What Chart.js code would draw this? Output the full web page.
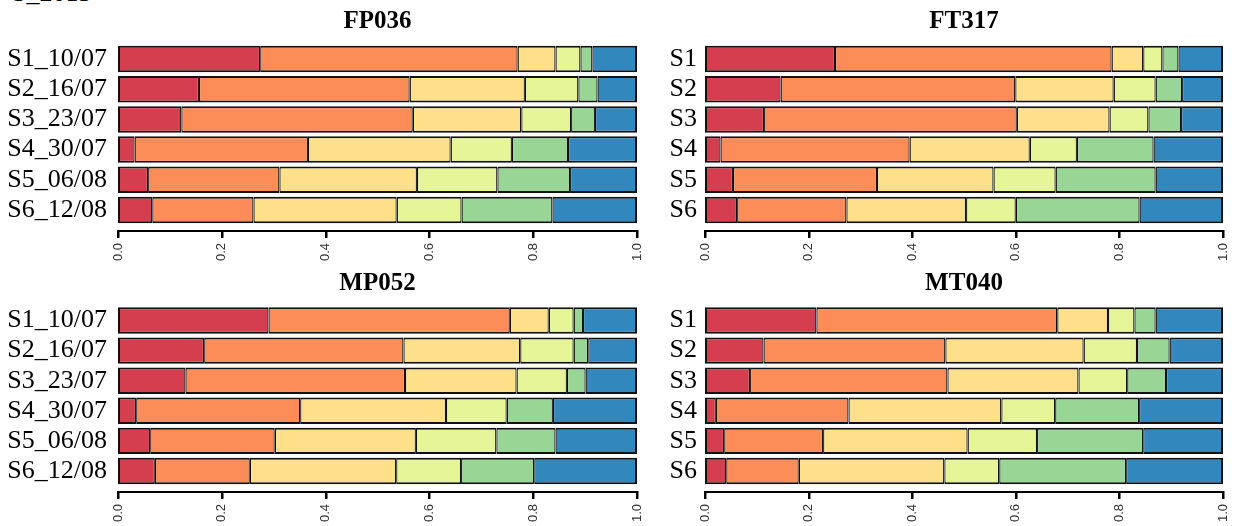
<!DOCTYPE html>
<html>
<head>
<meta charset="utf-8">
<script src="https://cdn.jsdelivr.net/npm/chart.js@4.4.1/dist/chart.umd.min.js"></script>
<style>
  html, body { margin: 0; padding: 0; background: #fff; overflow: hidden; }
  body { width: 1234px; height: 526px; position: relative; }
  canvas { position: absolute; }
  .cut { position: absolute; left: 12px; top: -20px; font: 26px/26px 'Liberation Serif', serif; color: #000; }
</style>
</head>
<body>
<div class="cut">S_2013</div>
<canvas id="c1" width="650" height="265" style="left:0;top:0"></canvas>
<canvas id="c2" width="584" height="265" style="left:650px;top:0"></canvas>
<canvas id="c3" width="650" height="264" style="left:0;top:262px"></canvas>
<canvas id="c4" width="584" height="264" style="left:650px;top:262px"></canvas>
<script>
// ---- data (proportions per sample, 6 groups each) ----
const longLabels = ['S1_10/07', 'S2_16/07', 'S3_23/07', 'S4_30/07', 'S5_06/08', 'S6_12/08'];
const shortLabels = ['S1', 'S2', 'S3', 'S4', 'S5', 'S6'];
const xTicks = [0, 0.2, 0.4, 0.6, 0.8, 1.0];
const groupColors = ['#d53e4f', '#fc8d59', '#fee08b', '#e6f598', '#99d594', '#3288bd'];

const fp036 = [
  [0.274, 0.496, 0.073, 0.048, 0.023, 0.086],
  [0.156, 0.406, 0.222, 0.103, 0.037, 0.076],
  [0.122, 0.446, 0.209, 0.096, 0.046, 0.081],
  [0.032, 0.334, 0.275, 0.118, 0.108, 0.133],
  [0.058, 0.253, 0.265, 0.155, 0.140, 0.129],
  [0.066, 0.195, 0.276, 0.125, 0.175, 0.163]
];
const ft317 = [
  [0.251, 0.534, 0.061, 0.037, 0.031, 0.086],
  [0.146, 0.453, 0.190, 0.081, 0.051, 0.079],
  [0.114, 0.488, 0.179, 0.075, 0.063, 0.081],
  [0.030, 0.365, 0.232, 0.091, 0.148, 0.134],
  [0.054, 0.278, 0.225, 0.120, 0.193, 0.130],
  [0.062, 0.211, 0.231, 0.096, 0.239, 0.161]
];
const mp052 = [
  [0.290, 0.465, 0.075, 0.048, 0.018, 0.104],
  [0.166, 0.384, 0.225, 0.103, 0.028, 0.094],
  [0.130, 0.423, 0.215, 0.097, 0.036, 0.099],
  [0.035, 0.316, 0.281, 0.117, 0.089, 0.162],
  [0.062, 0.240, 0.272, 0.155, 0.114, 0.157],
  [0.071, 0.183, 0.282, 0.125, 0.141, 0.198]
];
const mt040 = [
  [0.215, 0.465, 0.098, 0.051, 0.041, 0.130],
  [0.113, 0.351, 0.267, 0.103, 0.063, 0.103],
  [0.087, 0.381, 0.253, 0.094, 0.075, 0.110],
  [0.021, 0.256, 0.295, 0.104, 0.162, 0.162],
  [0.037, 0.191, 0.279, 0.134, 0.205, 0.154],
  [0.041, 0.140, 0.281, 0.106, 0.245, 0.187]
];

// title + R-style bottom axis (line from 0 to 1 with tick marks)
const panelDecor = {
  id: 'panelDecor',
  afterDraw(chart, args, opts) {
    const { ctx, chartArea } = chart;
    const xs = chart.scales.x;
    ctx.save();
    ctx.fillStyle = '#000';
    ctx.font = "bold 25px 'Liberation Serif', serif";
    ctx.textAlign = 'center';
    ctx.textBaseline = 'alphabetic';
    ctx.fillText(opts.title, (chartArea.left + chartArea.right) / 2, chartArea.top - 16);

    const y = Math.round(chartArea.bottom + 5);
    const x0 = xs.getPixelForValue(0);
    const x1 = xs.getPixelForValue(1);
    ctx.fillRect(x0 - 1, y, x1 - x0 + 2, 2);
    xTicks.forEach(v => {
      const px = Math.round(xs.getPixelForValue(v));
      ctx.fillRect(px - 1, y, 2.5, 8);
    });
    ctx.restore();
  }
};

function makePanel(id, title, rows, labels, yWidth, padTop, padRight, labelPad) {
  const datasets = groupColors.map((col, g) => ({
    data: rows.map(r => r[g]),
    backgroundColor: col,
    borderColor: '#111',
    borderWidth: { top: 2, bottom: 2, left: g === 0 ? 2 : 1.25, right: g === 5 ? 2 : 1.25 },
    borderSkipped: false,
    barPercentage: 0.88,
    categoryPercentage: 1.0
  }));

  new Chart(document.getElementById(id), {
    type: 'bar',
    data: { labels, datasets },
    options: {
      indexAxis: 'y',
      responsive: false,
      animation: false,
      layout: { padding: { top: padTop, right: padRight, left: 0, bottom: 0 } },
      plugins: {
        legend: { display: false },
        tooltip: { enabled: false },
        panelDecor: { title }
      },
      scales: {
        x: {
          stacked: true,
          min: 0,
          max: 1,
          afterBuildTicks: s => { s.ticks = xTicks.map(v => ({ value: v })); },
          afterFit: s => { s.height = 40; s.paddingLeft = 0; s.paddingRight = 0; },
          grid: { display: false, drawTicks: false },
          border: { display: false },
          ticks: {
            minRotation: 90,
            maxRotation: 90,
            padding: 18,
            color: '#333',
            font: { family: "'Liberation Sans', Arial, sans-serif", size: 13 },
            callback: v => Number(v).toFixed(1)
          }
        },
        y: {
          stacked: true,
          afterFit: s => { s.width = yWidth; s.paddingTop = 0; s.paddingBottom = 0; },
          grid: { display: false, drawTicks: false },
          border: { display: false },
          ticks: {
            autoSkip: false,
            padding: labelPad,
            color: '#000',
            font: { family: "'Liberation Serif', serif", size: 26 }
          }
        }
      }
    },
    plugins: [panelDecor]
  });
}

makePanel('c1', 'FP036', fp036, longLabels, 118, 44, 13, 11);
makePanel('c2', 'FT317', ft317, shortLabels, 55, 44, 11, 8);
makePanel('c3', 'MP052', mp052, longLabels, 118, 43.5, 13, 11);
makePanel('c4', 'MT040', mt040, shortLabels, 55, 43.5, 11, 8);
</script>
</body>
</html>
